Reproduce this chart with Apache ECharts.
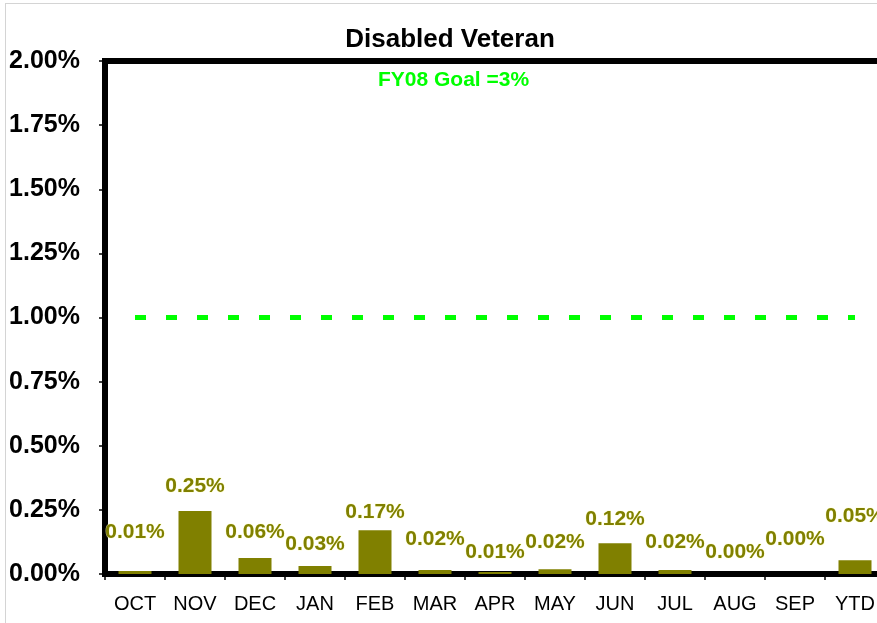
<!DOCTYPE html>
<html>
<head>
<meta charset="utf-8">
<title>Disabled Veteran</title>
<script src="https://cdn.jsdelivr.net/npm/echarts@6/dist/echarts.min.js"></script>
<style>
  html, body { margin: 0; padding: 0; background: #fff; }
  #chart { width: 877px; height: 623px; }
</style>
</head>
<body>
<div id="chart"></div>
<script>
// months + year to date
const months = ['OCT', 'NOV', 'DEC', 'JAN', 'FEB', 'MAR', 'APR', 'MAY', 'JUN', 'JUL', 'AUG', 'SEP', 'YTD']
// share in percent
const shares = [0.012, 0.246, 0.062, 0.031, 0.171, 0.016, 0.008, 0.019, 0.12, 0.016, 0, 0, 0.054]
// FY08 goal line drawn at 1%
const goalLine = [1, 1, 1, 1, 1, 1, 1, 1, 1, 1, 1, 1, 1]
const yTicks = { min: 0, max: 2, step: 0.25 }

// excel puts the data labels a bit all over the place
const labelLift = [28, 14, 15, 11, 7, 20, 9, 16, 14, 17, 11, 24, 33]

const font = 'Liberation Sans, Arial, sans-serif'
const chart = echarts.init(document.getElementById('chart'))

const option = {
  backgroundColor: '#fff',
  animation: false,
  title: {
    text: 'Disabled Veteran',
    left: 445,
    top: 22,
    textAlign: 'center',
    textStyle: { fontFamily: font, fontSize: 26, fontWeight: 'bold', color: '#000' }
  },
  graphic: [
    {
      type: 'text',
      left: 378,
      top: 70,
      style: { text: 'FY08 Goal =3%', font: 'bold 21px ' + font, fill: '#00ff00' }
    },
    // light grey frame of the pasted picture
    { type: 'line', shape: { x1: 5, y1: 3.5, x2: 877, y2: 3.5 }, style: { stroke: '#d4d4d4', lineWidth: 1 } },
    { type: 'line', shape: { x1: 5.5, y1: 3, x2: 5.5, y2: 623 }, style: { stroke: '#d4d4d4', lineWidth: 1 } }
  ],
  grid: {
    left: 105,
    top: 61,
    width: 780,
    bottom: 49,
    outerBoundsMode: 'none',
    containLabel: false,
    show: true,
    borderColor: '#000',
    borderWidth: 6
  },
  xAxis: {
    type: 'category',
    data: months,
    axisLine: { lineStyle: { color: '#000', width: 6 } },
    axisTick: { show: true, length: 6, lineStyle: { color: '#000', width: 1.5 } },
    axisLabel: { fontFamily: font, fontSize: 20, color: '#000', margin: 20 },
    splitLine: { show: false }
  },
  yAxis: {
    type: 'value',
    min: yTicks.min,
    max: yTicks.max,
    interval: yTicks.step,
    axisLine: { show: true, lineStyle: { color: '#000', width: 6 } },
    axisTick: { show: true, length: 6, lineStyle: { color: '#000', width: 1.5 } },
    axisLabel: {
      fontFamily: font,
      fontSize: 25,
      fontWeight: 'bold',
      color: '#000',
      margin: 25,
      formatter: v => v.toFixed(2) + '%'
    },
    splitLine: { show: false }
  },
  series: [
    {
      type: 'bar',
      barWidth: 33,
      itemStyle: { color: '#808000' },
      data: shares.map((v, i) => ({
        value: v,
        label: { distance: labelLift[i] }
      })),
      label: {
        show: true,
        position: 'top',
        fontFamily: font,
        fontSize: 21,
        fontWeight: 'bold',
        color: '#808000',
        textBorderColor: 'rgba(255,255,190,0.7)',
        textBorderWidth: 1,
        formatter: p => p.value.toFixed(2) + '%'
      },
      z: 2
    },
    {
      type: 'line',
      data: goalLine,
      symbol: 'none',
      silent: true,
      lineStyle: { color: '#00ff00', width: 5, type: [11, 20], cap: 'butt' },
      z: 3
    }
  ]
}

chart.setOption(option)
</script>
</body>
</html>
